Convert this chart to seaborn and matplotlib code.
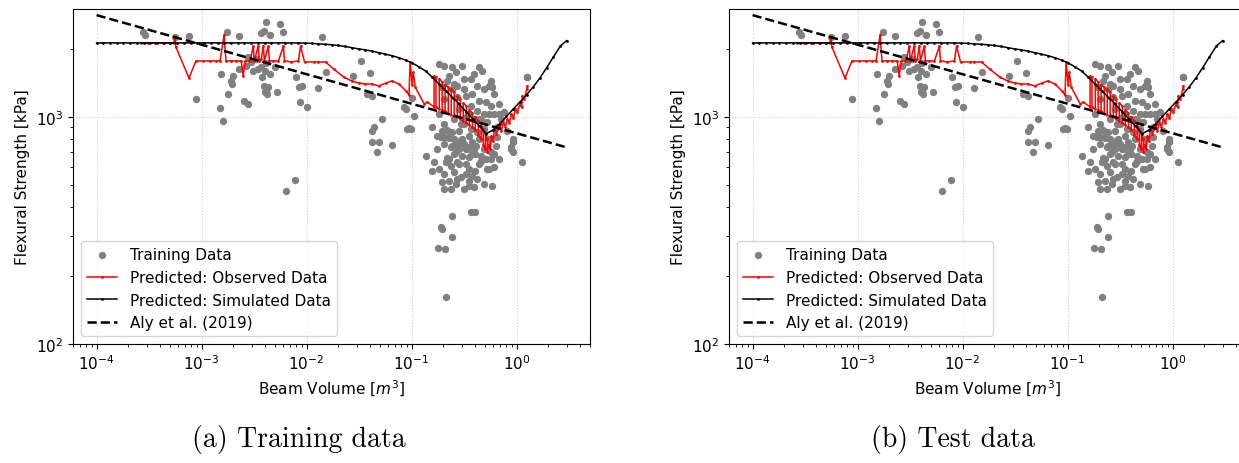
import matplotlib
matplotlib.use("Agg")
import matplotlib.pyplot as plt
import seaborn as sns
import numpy as np

# ---------------- data ----------------
# Training data (beam volume m^3, flexural strength kPa)
train_volume = [
    2.75e-4, 2.9e-4, 5.6e-4, 7.6e-4, 8.9e-4, 1.5e-3, 1.6e-3, 1.52e-3, 1.8e-3, 1.75e-3,
    1.9e-3, 1.95e-3, 2.0e-3, 2.3e-3, 2.55e-3, 2.8e-3, 4.1e-3, 3.9e-3, 3.7e-3, 4.5e-3,
    5.6e-3, 6.0e-3, 0.0139, 2.65e-3, 2.98e-3, 3.47e-3, 4.0e-3, 4.5e-3, 3.3e-3, 2.8e-3,
    3.7e-3, 3.1e-3, 4.1e-3, 2.3e-3, 5.0e-3, 3.8e-3, 3.9e-3, 4.1e-3, 4.2e-3, 4.3e-3,
    4.0e-3, 5.2e-3, 8.4e-3, 9.0e-3, 8.0e-3, 8.6e-3, 0.010, 0.0128, 0.0152, 0.033,
    0.040, 0.028, 0.0375, 0.042, 0.089, 0.100, 0.052, 0.044, 0.042, 0.042,
    0.049, 0.047, 0.065, 0.095, 0.106, 1.27, 0.085, 7.7e-3, 6.4e-3, 0.245,
    0.19, 0.37, 0.40, 0.196, 0.245, 0.18, 0.21, 0.214, 0.916, 0.896,
    0.916, 1.12,
    0.184, 0.205, 0.245, 0.305, 0.266, 0.229, 0.318, 0.37, 0.443, 0.473,
    0.577, 0.59, 0.424, 0.494, 0.38, 0.333, 0.273, 0.273, 0.245, 0.196,
    0.218, 0.37, 0.424, 0.494, 0.473, 0.528, 0.616, 0.577, 0.516, 0.443,
    0.397, 0.333, 0.297, 0.37, 0.424, 0.658, 0.719, 0.82, 0.916, 0.896,
    1.25, 0.768, 0.157, 0.176, 0.205, 0.229, 0.245, 0.297, 0.266, 0.34,
    0.38, 0.414, 0.462, 0.0907, 0.196, 0.218, 0.245, 0.285, 0.19, 0.229,
    0.266, 0.305, 0.355, 0.38, 0.239, 0.285, 0.333, 0.255, 0.305, 0.355,
    0.405, 0.462, 0.516, 0.577, 0.616, 0.528, 0.405, 0.333, 0.273, 0.239,
    0.214, 0.164, 0.157, 0.205, 0.255, 0.333, 0.38, 0.355, 0.273, 0.229,
    0.196, 0.239, 0.355, 0.59, 0.138, 0.577, 0.644, 0.658, 0.255, 0.552,
    0.688, 0.099,
    0.205, 0.255, 0.318, 0.397, 0.494, 0.218, 0.285, 0.355, 0.443, 0.552,
    0.184, 0.297, 0.424, 0.494, 0.266, 0.318, 0.397, 0.205, 0.229, 0.616,
    0.688, 0.355, 0.273, 0.176, 0.443, 0.552, 0.494, 0.318, 0.255, 0.205,
    0.184, 0.285, 0.355, 0.443, 0.552, 0.688, 0.616, 0.318, 0.397, 0.205,
]
train_strength = [
    2365, 2300, 2250, 2275, 1200, 1095, 960, 1546, 1262, 2365,
    1440, 1397, 1516, 2275, 1176, 1140, 2620, 2390, 2340, 2297,
    2570, 2365, 2250, 1677, 1747, 1627, 1594, 1546, 1801, 1838,
    1660, 1594, 1730, 1627, 1660, 1500, 1370, 1328, 1262, 1355,
    1288, 1288, 1355, 1370, 1500, 1164, 1107, 1341, 1578, 1765,
    1562, 1516, 1262, 1237, 1085, 1212, 980, 904, 868, 776,
    776, 701, 753, 894, 1010, 1500, 1107, 528, 472, 366,
    328, 381, 381, 321, 296, 265, 262, 161, 776, 723,
    701, 633,
    1712, 1679, 1662, 1679, 1578, 1516, 1470, 1470, 1662, 1594,
    1441, 1355, 1370, 1328, 1263, 1237, 1225, 1370, 1328, 1355,
    1441, 1118, 1063, 1031, 960, 951, 1031, 1118, 1164, 1176,
    980, 1000, 932, 885, 858, 904, 980, 868, 800, 738,
    1500, 1052, 904, 825, 816, 858, 745, 776, 701, 723,
    687, 745, 674, 885, 868, 877, 858, 868, 816, 808,
    784, 800, 825, 776, 738, 723, 723, 687, 674, 667,
    687, 640, 653, 653, 603, 590, 578, 621, 633, 608,
    633, 633, 578, 561, 572, 561, 550, 523, 533, 523,
    517, 482, 497, 497, 674, 701, 745, 816, 1398, 1370,
    1031, 885,
    760, 800, 760, 723, 723, 660, 621, 590, 621, 590,
    590, 545, 533, 507, 507, 482, 492, 482, 653, 687,
    653, 738, 738, 723, 800, 800, 885, 932, 980, 932,
    1031, 1084, 1031, 980, 1031, 1141, 1263, 1328, 1546, 1200,
]

# Predicted on observed data (red)
obs_volume = [
    2.64e-4, 3.07e-4, 3.59e-4, 4.28e-4, 5.0e-4, 5.46e-4, 5.58e-4, 5.70e-4, 7.59e-4, 8.86e-4,
    1.03e-3, 1.21e-3, 1.38e-3, 1.50e-3, 1.64e-3, 1.71e-3, 1.91e-3, 2.14e-3, 2.39e-3, 2.49e-3,
    2.61e-3, 2.91e-3, 3.11e-3, 3.18e-3, 3.47e-3, 3.55e-3, 3.71e-3, 3.88e-3, 3.97e-3, 4.33e-3,
    4.43e-3, 4.83e-3, 5.40e-3, 6.03e-3, 6.17e-3, 7.18e-3, 8.38e-3, 8.77e-3, 9.57e-3, 0.0117,
    0.0130, 0.0152, 0.0181, 0.0226, 0.0270, 0.0315, 0.0359, 0.0419, 0.0489, 0.0570,
    0.0651, 0.0759, 0.0886, 0.0947, 0.0969, 0.1014, 0.1037, 0.1085, 0.132, 0.141,
    0.164, 0.164, 0.171, 0.171, 0.184, 0.184, 0.196, 0.196, 0.209, 0.209,
    0.224, 0.224, 0.239, 0.239, 0.255, 0.255, 0.273, 0.273, 0.291, 0.291,
    0.311, 0.311, 0.333, 0.333, 0.355, 0.355, 0.380, 0.380, 0.405, 0.405,
    0.433, 0.433, 0.462, 0.462, 0.483, 0.483, 0.505, 0.505, 0.528, 0.528,
    0.552, 0.564, 0.577, 0.603, 0.616, 0.644, 0.688, 0.719, 0.751, 0.785,
    0.820, 0.857, 0.896, 0.936, 0.978, 1.02, 1.07, 1.12, 1.14, 1.19,
    1.25, 1.27,
]
obs_pred = [
    2118, 2118, 2118, 2118, 2118, 2118, 2250, 2034, 1485, 1765,
    1765, 1765, 1765, 1765, 2297, 1765, 1765, 1765, 1765, 1516,
    1765, 1765, 2055, 1765, 2055, 1765, 1801, 2055, 1765, 2055,
    1765, 1765, 1765, 2055, 1765, 1747, 1765, 2055, 1747, 1747,
    1747, 1747, 1627, 1500, 1441, 1411, 1398, 1398, 1370, 1411,
    1441, 1398, 1302, 1250, 1747, 1384, 1578, 1355, 1141, 1164,
    1107, 1516, 1500, 1107, 1084, 1470, 1427, 1073, 1063, 1384,
    1355, 1041, 1020, 1328, 1288, 1010, 1000, 1237, 1200, 980,
    960, 1153, 1118, 941, 922, 1073, 1041, 904, 876, 1000,
    960, 833, 800, 913, 885, 753, 723, 850, 800, 701,
    760, 723, 825, 784, 904, 841, 922, 868, 951, 904,
    980, 941, 1031, 990, 1085, 1052, 1130, 1107, 1237, 1200,
    1328, 1370,
]

# Predicted on simulated data (black)
sim_volume = [
    1.00e-4, 1.16e-4, 1.34e-4, 1.56e-4, 1.80e-4, 2.09e-4, 2.42e-4, 2.81e-4, 3.25e-4, 3.77e-4,
    4.37e-4, 5.06e-4, 5.86e-4, 6.79e-4, 7.87e-4, 9.12e-4, 1.06e-3, 1.22e-3, 1.42e-3, 1.64e-3,
    1.91e-3, 2.21e-3, 2.56e-3, 2.96e-3, 3.44e-3, 3.98e-3, 4.61e-3, 5.35e-3, 6.19e-3, 7.18e-3,
    8.32e-3, 9.64e-3, 0.0112, 0.0129, 0.0150, 0.0174, 0.0201, 0.0233, 0.0270, 0.0313,
    0.0363, 0.0421, 0.0488, 0.0565, 0.0655, 0.0759, 0.0879, 0.102, 0.118, 0.137,
    0.158, 0.184, 0.213, 0.247, 0.286, 0.331, 0.384, 0.445, 0.515, 0.597,
    0.692, 0.802, 0.929, 1.08, 1.25, 1.45, 1.67, 1.94, 2.25, 2.61,
    3.00,
]
sim_pred = [
    2120, 2120, 2120, 2120, 2120, 2120, 2120, 2120, 2120, 2120,
    2120, 2120, 2120, 2120, 2120, 2120, 2120, 2120, 2120, 2120,
    2120, 2120, 2120, 2120, 2120, 2120, 2120, 2120, 2120, 2120,
    2120, 2115, 2110, 2100, 2090, 2080, 2065, 2045, 2020, 1995,
    1975, 1950, 1920, 1890, 1862, 1823, 1780, 1730, 1660, 1592,
    1495, 1395, 1303, 1216, 1138, 1057, 980, 910, 845, 875,
    935, 1005, 1082, 1165, 1255, 1360, 1485, 1650, 1840, 2050,
    2170,
]

# Aly et al. (2019) power law
aly_volume = [1e-4, 3.0]
aly_strength = [2810, 735]

panel_captions = ["(a) Training data", "(b) Test data"]

# ---------------- figure ----------------
plt.rcParams["font.family"] = ["DejaVu Sans"]
plt.rcParams["font.size"] = 11

fig = plt.figure(figsize=(12.39, 4.64), dpi=100)
W, H = 1239, 464
axes_px = [(73, 10, 517, 335), (729, 10, 517, 335)]
caption_x = [299, 953]

for (lx, ty, w, h), cap, cx in zip(axes_px, panel_captions, caption_x):
    ax = fig.add_axes([lx / W, 1 - (ty + h) / H, w / W, h / H])
    sns.scatterplot(x=train_volume, y=train_strength, color="grey", s=28,
                    linewidth=0, ax=ax, label="Training Data", zorder=2)
    sns.lineplot(x=obs_volume, y=obs_pred, sort=False, estimator=None,
                 color="red", marker=".", markersize=4, markeredgecolor="red",
                 markeredgewidth=0, linewidth=1.1, ax=ax,
                 label="Predicted: Observed Data", zorder=3)
    sns.lineplot(x=sim_volume, y=sim_pred, sort=False, estimator=None,
                 color="black", marker=".", markersize=4, markeredgecolor="black",
                 markeredgewidth=0, linewidth=1.1, ax=ax,
                 label="Predicted: Simulated Data", zorder=4)
    sns.lineplot(x=aly_volume, y=aly_strength, sort=False, estimator=None,
                 color="black", linestyle="--", linewidth=1.8, ax=ax,
                 label="Aly et al. (2019)", zorder=5)
    ax.set_xscale("log")
    ax.set_yscale("log")
    ax.set_xlim(10 ** -4.224, 10 ** 0.70)
    ax.set_ylim(100, 2990)
    ax.grid(True, which="major", linestyle=":", color="#cfcfcf", linewidth=0.8)
    ax.set_axisbelow(True)
    ax.set_xlabel("Beam Volume [$m^3$]", fontsize=11)
    ax.set_ylabel("Flexural Strength [kPa]", fontsize=11)
    ax.tick_params(labelsize=11)
    ax.legend(loc="lower left", fontsize=11)
    fig.text(cx / W, 1 - 440 / H, cap, ha="center", va="center",
             fontsize=20, family="cmr10")

fig.savefig("out.png", dpi=100)
